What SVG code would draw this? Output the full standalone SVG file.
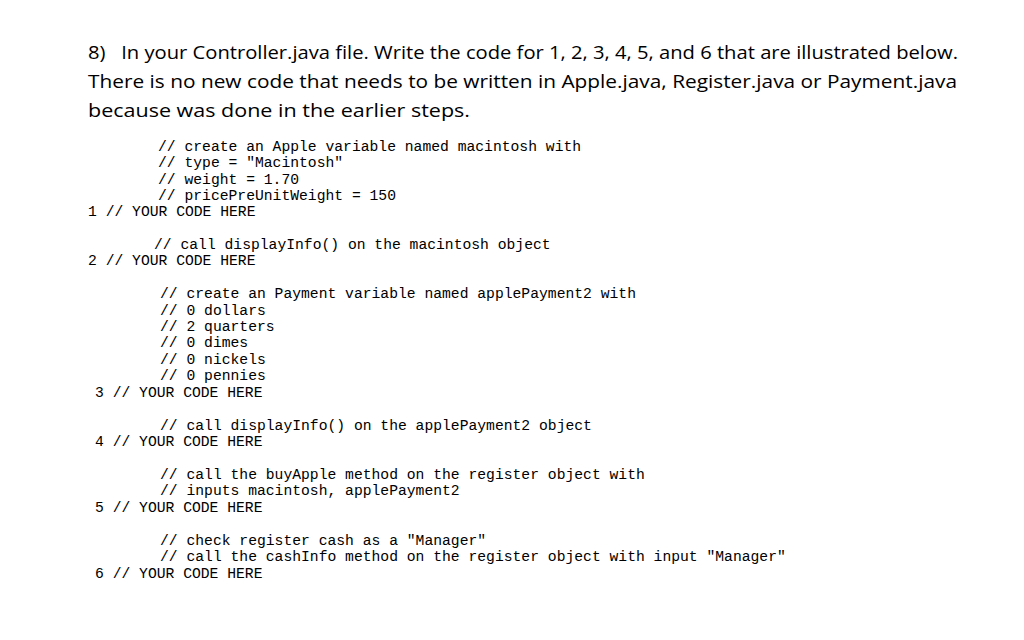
<svg xmlns="http://www.w3.org/2000/svg" width="1024" height="640" viewBox="0 0 1024 640">
<style>
.h{font-family:"Open Sans","Liberation Sans",sans-serif;font-size:18.5px;fill:#000;white-space:pre}
.c{font-family:"Liberation Mono",monospace;font-size:14.7px;fill:#000;white-space:pre}
</style>
<rect width="1024" height="640" fill="#fff"/>
<g id="heading">
<text class="h" x="88" y="59" textLength="870" lengthAdjust="spacingAndGlyphs">8)   In your Controller.java file. Write the code for 1, 2, 3, 4, 5, and 6 that are illustrated below.</text>
<text class="h" x="88" y="88" textLength="869" lengthAdjust="spacingAndGlyphs">There is no new code that needs to be written in Apple.java, Register.java or Payment.java</text>
<text class="h" x="88" y="117" textLength="382" lengthAdjust="spacingAndGlyphs">because was done in the earlier steps.</text>
</g>
<g id="code">
<text class="c" x="158" y="151">// create an Apple variable named macintosh with</text>
<text class="c" x="158" y="167">// type = "Macintosh"</text>
<text class="c" x="158" y="184">// weight = 1.70</text>
<text class="c" x="158" y="200">// pricePreUnitWeight = 150</text>
<text class="c" x="88" y="216">1 // YOUR CODE HERE</text>
<text class="c" x="154" y="249">// call displayInfo() on the macintosh object</text>
<text class="c" x="88" y="265">2 // YOUR CODE HERE</text>
<text class="c" x="160" y="298">// create an Payment variable named applePayment2 with</text>
<text class="c" x="160" y="315">// 0 dollars</text>
<text class="c" x="160" y="331">// 2 quarters</text>
<text class="c" x="160" y="347">// 0 dimes</text>
<text class="c" x="160" y="364">// 0 nickels</text>
<text class="c" x="160" y="380">// 0 pennies</text>
<text class="c" x="95" y="397">3 // YOUR CODE HERE</text>
<text class="c" x="160" y="430">// call displayInfo() on the applePayment2 object</text>
<text class="c" x="95" y="446">4 // YOUR CODE HERE</text>
<text class="c" x="160" y="479">// call the buyApple method on the register object with</text>
<text class="c" x="160" y="495">// inputs macintosh, applePayment2</text>
<text class="c" x="95" y="512">5 // YOUR CODE HERE</text>
<text class="c" x="160" y="545">// check register cash as a "Manager"</text>
<text class="c" x="160" y="561">// call the cashInfo method on the register object with input "Manager"</text>
<text class="c" x="95" y="578">6 // YOUR CODE HERE</text>
</g>
</svg>
